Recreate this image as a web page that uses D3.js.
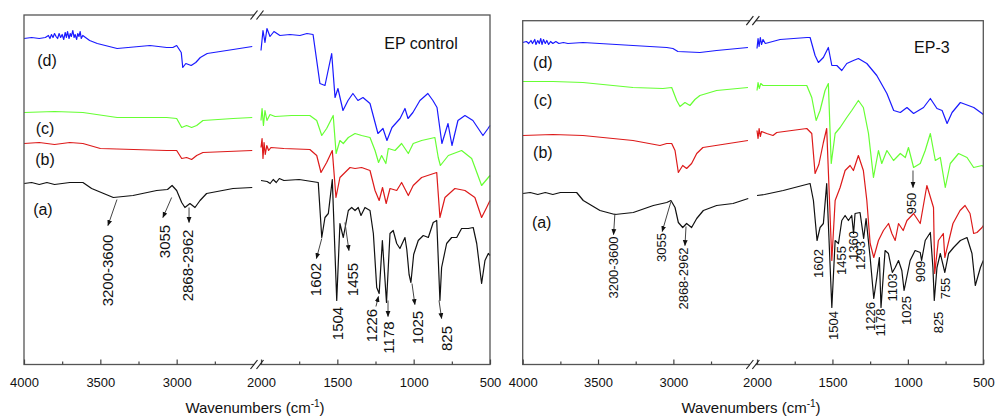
<!DOCTYPE html>
<html>
<head>
<meta charset="utf-8">
<title>FTIR spectra</title>
<script src="https://cdn.jsdelivr.net/npm/d3@7"></script>
<style>
  body { margin: 0; background: #fff; }
  svg text { font-family: "Liberation Sans", Arial, sans-serif; fill: #111; }
</style>
</head>
<body>
<div id="wrapper"></div>
<script>
// spectra: [wavenumber (cm-1), transmittance offset (a.u.)]
var ctrlA = [[4000,181],[3950,182],[3900,180],[3850,182],[3800,180],[3700,182],[3614,182],[3557,176],[3415,167],[3286,169],[3131,174],[3060,175],[3030,179],[3000,174],[2967,162],[2946,157],[2913,161],[2880,157],[2847,164],[2804,171],[2631,176],[2505,177],
  [2000,184],[1960,183],[1940,181],[1920,185],[1900,182],[1880,186],[1850,184],[1750,185],[1625,182],[1602,127],[1581,147],[1559,151],[1533,185],[1504,64],[1483,141],[1461,127],[1428,154],[1406,157],[1384,154],[1363,157],[1345,149],[1319,157],[1286,154],[1264,131],[1242,77],[1226,71],[1205,124],[1178,62],[1155,131],[1134,134],[1111,121],[1090,116],[1057,127],[1045,115],[1030,90],[1018,82],[1000,110],[970,124],[937,129],[904,127],[872,142],[849,144],[828,64],[817,97],[784,121],[751,127],[718,127],[686,136],[642,136],[610,137],[587,121],[555,81],[533,104],[511,111],[500,109]];
var ctrlB = [[4000,221],[3900,222],[3800,220],[3700,222],[3614,221],[3500,216],[3065,214],[3000,214],[2967,206],[2935,207],[2902,205],[2869,209],[2828,212],[2505,214],
  [2000,217],[1993,226],[1987,206],[1980,222],[1972,210],[1962,219],[1950,214],[1935,217],[1850,216],[1680,215],[1635,209],[1607,192],[1570,202],[1533,214],[1509,167],[1483,187],[1450,192],[1417,197],[1384,196],[1341,197],[1286,194],[1253,174],[1226,164],[1204,177],[1180,161],[1155,176],[1111,174],[1079,182],[1035,169],[1003,179],[948,187],[849,192],[828,147],[795,167],[730,176],[664,174],[599,167],[555,147],[522,157],[500,164]];
var ctrlC = [[4000,252],[3800,253],[3614,252],[3390,247],[3065,247],[3000,246],[2967,237],[2935,239],[2902,237],[2869,239],[2828,244],[2630,246],[2505,247],
  [2000,244],[1993,256],[1984,239],[1974,254],[1961,244],[1941,250],[1908,248],[1800,249],[1680,249],[1635,244],[1602,229],[1570,236],[1527,249],[1508,211],[1483,224],[1461,221],[1428,227],[1384,231],[1341,229],[1286,227],[1253,214],[1230,202],[1210,209],[1182,201],[1166,216],[1122,214],[1079,221],[1035,211],[1003,221],[948,224],[861,227],[839,207],[825,199],[773,209],[686,214],[620,206],[555,179],[511,187],[500,189]];
var ctrlD = [[4000,326],[3950,327],[3900,326],[3860,327],[3840,329],[3830,326],[3820,330],[3810,327],[3800,331],[3790,328],[3780,326],[3770,331],[3760,327],[3750,330],[3740,325],[3730,332],[3722,327],[3715,333],[3705,326],[3697,331],[3690,328],[3680,334],[3672,327],[3665,330],[3655,325],[3648,331],[3640,328],[3632,333],[3625,326],[3615,329],[3570,324],[3520,321],[3390,316],[3175,319],[3065,317],[3025,317],[3000,319],[2970,312],[2960,297],[2940,301],[2905,299],[2875,302],[2845,307],[2800,311],[2630,315],[2505,318],
  [2000,314],[1987,334],[1974,322],[1961,336],[1941,328],[1915,333],[1876,329],[1810,330],[1745,329],[1699,331],[1659,330],[1614,281],[1581,279],[1537,311],[1515,267],[1496,276],[1463,254],[1430,264],[1398,271],[1365,264],[1332,267],[1286,261],[1234,231],[1201,236],[1175,224],[1142,237],[1089,246],[1057,256],[1037,246],[1005,252],[959,264],[907,271],[874,264],[847,257],[815,221],[775,241],[749,219],[710,244],[664,249],[612,244],[546,229],[513,236],[500,239]];

var ep3A = [[4000,171],[3950,172],[3900,170],[3850,172],[3800,170],[3750,172],[3642,172],[3598,164],[3487,154],[3388,150],[3266,152],[3133,159],[3044,162],[3016,164],[2989,157],[2967,142],[2938,137],[2912,141],[2879,137],[2845,146],[2801,154],[2713,159],[2604,161],[2503,166],
  [2000,169],[1950,170],[1826,174],[1648,181],[1626,164],[1602,124],[1582,137],[1560,141],[1538,181],[1504,57],[1482,124],[1460,121],[1438,144],[1416,149],[1394,144],[1372,149],[1360,131],[1350,151],[1317,152],[1293,126],[1277,146],[1250,107],[1226,66],[1206,87],[1189,107],[1178,57],[1151,114],[1129,111],[1103,92],[1084,97],[1062,104],[1040,94],[1025,74],[985,104],[952,114],[918,112],[909,104],[885,124],[851,132],[834,97],[825,64],[807,97],[785,111],[755,92],[730,111],[697,117],[652,124],[608,127],[575,111],[553,79],[519,97],[500,104]];
var ep3B = [[4000,229],[3800,230],[3600,229],[3268,224],[3089,219],[3044,221],[3011,221],[2989,214],[2967,192],[2938,199],[2912,196],[2879,201],[2845,211],[2804,217],[2505,224],
  [2000,234],[1993,226],[1986,236],[1978,228],[1970,233],[1936,231],[1894,229],[1869,232],[1670,236],[1637,231],[1615,191],[1590,200],[1560,222],[1538,236],[1504,104],[1482,164],[1449,177],[1416,194],[1383,199],[1361,194],[1328,209],[1295,194],[1272,164],[1250,121],[1226,107],[1195,124],[1162,134],[1128,141],[1106,131],[1084,124],[1062,141],[1031,134],[1006,144],[962,151],[918,141],[874,179],[830,157],[822,91],[798,124],[765,131],[755,107],[701,141],[654,154],[621,159],[588,151],[564,131],[542,132],[508,137],[500,139]];
var ep3C = [[4000,283],[3800,283],[3600,282],[3268,277],[3069,276],[3011,277],[2978,264],[2956,258],[2923,262],[2890,259],[2857,265],[2824,269],[2713,274],[2505,277],
  [2000,274],[1993,282],[1985,276],[1975,281],[1960,279],[1670,279],[1637,267],[1608,244],[1582,254],[1549,274],[1527,281],[1508,201],[1482,231],[1449,237],[1405,247],[1372,254],[1328,264],[1295,257],[1261,231],[1228,187],[1195,214],[1173,201],[1139,214],[1095,204],[1050,211],[1017,207],[996,217],[962,197],[918,201],[885,214],[851,231],[818,204],[785,207],[752,177],[719,201],[664,211],[608,207],[564,197],[508,199],[500,198]];
var ep3D = [[4000,322],[3975,323],[3960,321],[3945,324],[3935,321],[3920,325],[3912,320],[3900,324],[3890,321],[3880,326],[3872,320],[3862,325],[3850,321],[3840,324],[3828,320],[3815,323],[3800,321],[3780,323],[3760,321],[3730,322],[3700,321],[3600,322],[3268,319],[3044,317],[3003,316],[2970,313],[2824,312],[2713,314],[2505,317],
  [2000,316],[1993,326],[1986,318],[1978,327],[1970,320],[1960,325],[1945,321],[1847,325],[1668,327],[1648,327],[1615,309],[1593,302],[1560,307],[1527,317],[1504,299],[1471,299],[1438,294],[1405,301],[1361,304],[1328,306],[1272,301],[1206,289],[1139,271],[1094,254],[1050,252],[1006,257],[962,251],[896,257],[851,266],[807,256],[773,254],[740,241],[707,252],[652,262],[563,257],[508,251],[500,250]];

var seriesNames = ["(a)", "(b)", "(c)", "(d)"];
var seriesColors = ["#111111", "#dd1a1a", "#66ff33", "#1a1aff"];

var majorTicksHigh = [4000, 3500, 3000];
var majorTicksLow = [2000, 1500, 1000, 500];
var minorTicksHigh = [3750, 3250, 2750];
var minorTicksLow = [1750, 1250, 750];

// curve label anchors [wavenumber, a.u.]
var ctrlLabelPos = [[3876,155],[3862,205],[3862,236],[3849,304]];
var ep3LabelPos = [[3874,142],[3866,212],[3866,264],[3866,302]];

// peak annotations: text, text centre [wn, a.u.], arrow from, arrow to
var ctrlPeaks = [
  ["3200-3600", [3450,94], [3391,165], [3450,139]],
  ["3055", [3077,123], [3033,167], [3090,147]],
  ["2868-2962", [2926,99], [2919,157], [2919,142]],
  ["1602", [1646,85], [1602,126], [1637,106]],
  ["1504", [1502,41], null, null],
  ["1455", [1398,85], [1450,142], [1424,114]],
  ["1226", [1273,39], [1247,58], [1231,68]],
  ["1178", [1168,27], [1168,64], [1168,48]],
  ["1025", [972,37], [1011,81], [992,60]],
  ["825", [782,26], [834,64], [817,46]]
];
var ep3Peaks = [
  ["3200-3600", [3399,97], [3388,151], [3397,130]],
  ["3055", [3078,117], [3016,163], [3074,133]],
  ["2868-2962", [2934,86], [2916,138], [2923,119]],
  ["1602", [1593,101], null, null],
  ["1504", [1494,39], null, null],
  ["1455", [1438,104], null, null],
  ["1360", [1361,119], null, null],
  ["1293", [1317,109], null, null],
  ["1226", [1250,48], null, null],
  ["1178", [1184,42], null, null],
  ["1103", [1100,77], null, null],
  ["1025", [1010,54], null, null],
  ["909", [917,93], null, null],
  ["825", [795,42], null, null],
  ["755", [749,76], null, null],
  ["950", [975,161], [966,194], [966,177]]
];

var svg = d3.select("#wrapper").append("svg")
  .attr("width", 997).attr("height", 417);

svg.append("defs").append("marker")
  .attr("id", "arrow")
  .attr("viewBox", "0 0 10 10")
  .attr("refX", 9).attr("refY", 5)
  .attr("markerWidth", 6).attr("markerHeight", 6)
  .attr("orient", "auto")
  .append("path").attr("d", "M0,1L10,5L0,9z").attr("fill", "#111");

function drawPanel(p) {
  var g = svg.append("g");
  var xHigh = d3.scaleLinear().domain([4000, 2500]).range([p.x0, p.xb1]);
  var xLow = d3.scaleLinear().domain([2000, 500]).range([p.xb2, p.x1]);
  var y = d3.scaleLinear().domain([0, p.bottom - p.top]).range([p.bottom, p.top]);
  function xPos(wn) { return wn > 2250 ? xHigh(wn) : xLow(wn); }

  var line = d3.line().x(function(d) { return xPos(d[0]); }).y(function(d) { return y(d[1]); });

  // spectra, each split at the axis break
  p.series.forEach(function(s, i) {
    var parts = [s.filter(function(d) { return d[0] > 2250; }), s.filter(function(d) { return d[0] <= 2000; })];
    parts.forEach(function(part) {
      g.append("path").attr("d", line(part))
        .attr("fill", "none")
        .attr("stroke", seriesColors[i])
        .attr("stroke-width", 1.2)
        .attr("stroke-linejoin", "round");
    });
    var lp = p.labelPos[i];
    g.append("text")
      .attr("x", xPos(lp[0])).attr("y", y(lp[1]))
      .attr("text-anchor", "middle").attr("dominant-baseline", "central")
      .style("font-size", "16px")
      .text(seriesNames[i]);
  });

  // frame
  g.append("rect")
    .attr("x", p.x0).attr("y", p.top)
    .attr("width", p.x1 - p.x0).attr("height", p.bottom - p.top)
    .attr("fill", "none").attr("stroke", "#555").attr("stroke-width", 1.3);

  // axes
  function axis(scale, vals, size, labels) {
    var a = d3.axisBottom(scale).tickValues(vals).tickSize(size).tickPadding(13)
      .tickFormat(labels ? d3.format("d") : "");
    var ag = g.append("g").attr("transform", "translate(0," + p.bottom + ")").call(a);
    ag.select(".domain").remove();
    ag.selectAll(".tick line").attr("stroke", "#444").attr("stroke-width", 1.2);
    ag.selectAll(".tick text").style("font-size", "13px").style("fill", "#111")
      .attr("font-family", "Liberation Sans, Arial, sans-serif");
  }
  axis(xHigh, majorTicksHigh, -5, true);
  axis(xLow, majorTicksLow, -5, true);
  axis(xHigh, minorTicksHigh, -3, false);
  axis(xLow, minorTicksLow, -3, false);

  // axis break marks
  var bx = (p.xb1 + p.xb2) / 2;
  [p.top, p.bottom].forEach(function(yy) {
    g.append("rect").attr("x", bx - 3).attr("y", yy - 2).attr("width", 6).attr("height", 4).attr("fill", "#fff");
    [-3, 3].forEach(function(off) {
      g.append("line")
        .attr("x1", bx + off - 3.5).attr("y1", yy + 4.5)
        .attr("x2", bx + off + 3.5).attr("y2", yy - 4.5)
        .attr("stroke", "#222").attr("stroke-width", 1.2);
    });
  });

  // axis title
  var t = g.append("text")
    .attr("x", (p.x0 + p.x1) / 2 - 2).attr("y", 413)
    .attr("text-anchor", "middle").style("font-size", "15px");
  t.append("tspan").text("Wavenumbers (cm");
  t.append("tspan").attr("dy", -6).style("font-size", "10px").text("-1");
  t.append("tspan").attr("dy", 6).text(")");

  // panel name
  g.append("text")
    .attr("x", xPos(p.namePos[0])).attr("y", y(p.namePos[1]))
    .attr("text-anchor", "middle").attr("dominant-baseline", "central")
    .style("font-size", "16px").text(p.name);

  // peak annotations
  p.peaks.forEach(function(pk) {
    var cx = xPos(pk[1][0]), cy = y(pk[1][1]);
    g.append("text")
      .attr("transform", "translate(" + cx + "," + cy + ") rotate(-90)")
      .attr("text-anchor", "middle").attr("dominant-baseline", "central")
      .style("font-size", p.peakFont).text(pk[0]);
    if (pk[2]) {
      g.append("line")
        .attr("x1", xPos(pk[2][0])).attr("y1", y(pk[2][1]))
        .attr("x2", xPos(pk[3][0])).attr("y2", y(pk[3][1]))
        .attr("stroke", "#444").attr("stroke-width", 1)
        .attr("marker-end", "url(#arrow)");
    }
  });
}

drawPanel({
  name: "EP control", namePos: [952, 321],
  x0: 24, xb1: 253, xb2: 261, x1: 490, top: 15, bottom: 364.5,
  series: [ctrlA, ctrlB, ctrlC, ctrlD], labelPos: ctrlLabelPos,
  peaks: ctrlPeaks, peakFont: "15px"
});
drawPanel({
  name: "EP-3", namePos: [841, 317],
  x0: 522.7, xb1: 748.7, xb2: 757, x1: 983.3, top: 20.7, bottom: 364.5,
  series: [ep3A, ep3B, ep3C, ep3D], labelPos: ep3LabelPos,
  peaks: ep3Peaks, peakFont: "13px"
});
</script>
</body>
</html>
